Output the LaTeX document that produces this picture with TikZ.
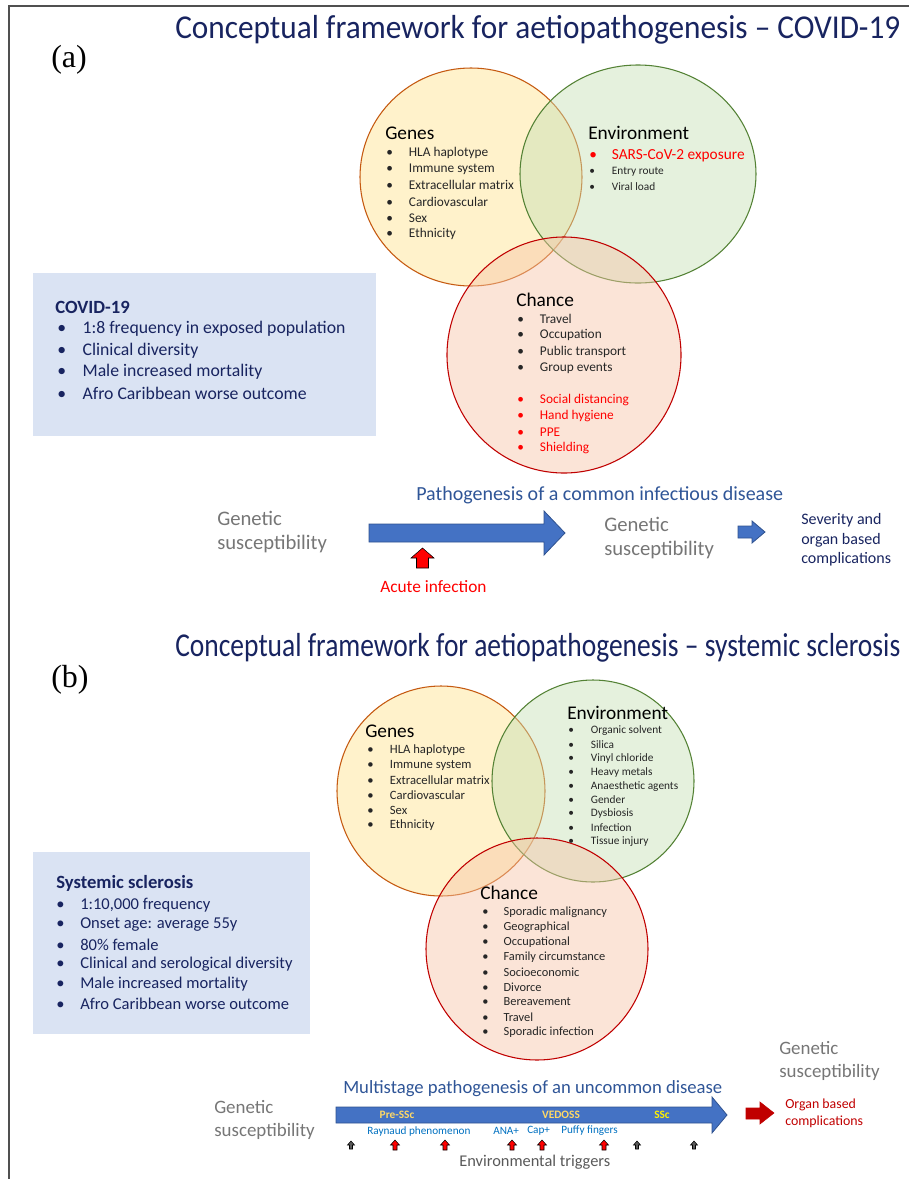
\documentclass[tikz,border=0pt]{standalone}
\usepackage{graphicx}
\usepackage{fontspec}
\setmainfont{Carlito}
\newfontfamily\labelfont{Liberation Serif}

\definecolor{navy}{RGB}{24,36,96}
\definecolor{genesline}{RGB}{197,90,17}
\definecolor{genesfill}{RGB}{255,226,140}
\definecolor{envline}{RGB}{84,130,53}
\definecolor{envfill}{RGB}{197,224,180}
\definecolor{chanceline}{RGB}{192,0,0}
\definecolor{chancefill}{RGB}{246,196,166}
\definecolor{boxfill}{RGB}{218,227,243}
\definecolor{arrowblue}{RGB}{68,114,196}
\definecolor{arrowedge}{RGB}{47,82,143}
\definecolor{textblue}{RGB}{47,85,151}
\definecolor{signblue}{RGB}{0,112,192}
\definecolor{stagegold}{RGB}{255,217,102}
\definecolor{susgray}{RGB}{118,118,118}
\definecolor{alertred}{RGB}{255,0,0}
\definecolor{darkred}{RGB}{192,0,0}
\definecolor{framegray}{RGB}{80,80,80}

\newcommand{\bul}[2]{\makebox[#1][l]{\textbullet}#2}
\newcommand{\titlefit}[1]{\resizebox{543.75pt}{\height}{#1}}

\begin{document}
\begin{tikzpicture}[
        x = 0.75pt, y = -0.75pt, % one unit = one pixel, y downwards
        every node/.style = {inner sep = 0pt},
        title/.style = {anchor = west, text = navy, font = \fontsize{25}{29}\selectfont},
        panel/.style = {anchor = west, font = \labelfont\fontsize{24}{28}\selectfont},
        genes/.style = {draw = genesline, fill = genesfill, fill opacity = 0.45, thick},
        env/.style = {draw = envline, fill = envfill, fill opacity = 0.45, thick},
        chance/.style = {draw = chanceline, fill = chancefill, fill opacity = 0.45, thick},
        head/.style = {anchor = west, font = \fontsize{14.5}{17}\selectfont},
        item/.style = {anchor = west, text = black!85, font = \fontsize{10}{12}\selectfont},
        boxhead/.style = {anchor = west, text = navy, font = \bfseries\fontsize{14}{17}\selectfont},
        boxitem/.style = {anchor = west, text = navy, font = \fontsize{13.3}{16}\selectfont},
        sus/.style = {anchor = west, align = left, text = susgray, font = \fontsize{15.5}{18}\selectfont},
        stage/.style = {text = stagegold, font = \bfseries\fontsize{8.5}{10}\selectfont},
        sign/.style = {anchor = west, text = signblue, font = \fontsize{8.4}{10}\selectfont},
        blockarrow/.style = {fill = arrowblue, draw = arrowedge, line width = 0.6pt},
        trig/.style = {fill = alertred},
        quiet/.style = {fill = black!65}
    ]

    \useasboundingbox (0,0) rectangle (909,1179);

    % frame
    \draw[framegray, line width = 1.5pt] (9,1179) -- (9,6) -- (909,6);

    %%%%%%%%%% (a) COVID-19
    \node[title] (titleA) at (175,30) {\titlefit{Conceptual framework for aetiopathogenesis – COVID-19}};
    \node[panel] (labA) at (51,60) {(a)};

    \draw[genes] (471,177) ellipse [x radius = 111, y radius = 109];
    \draw[env] (638,174) ellipse [x radius = 118, y radius = 109];
    \draw[chance] (564,355) ellipse [x radius = 117, y radius = 118];

    \node[head] (genesA) at (385,133) {Genes};
    \foreach \txt [count=\i from 0] in {HLA haplotype, Immune system, Extracellular matrix, Cardiovascular, Sex, Ethnicity}
        \node[item] (genesA\i) at (386,{153+16.2*\i}) {\bul{17pt}{\txt}};

    \node[head] (envA) at (588,133) {Environment};
    \node[item, text = alertred, font = \fontsize{11.5}{13}\selectfont] (envA0) at (589,156) {\bul{17pt}{SARS-CoV-2 exposure}};
    \node[item, font = \fontsize{8.5}{10}\selectfont] (envA1) at (589,172) {\bul{17pt}{Entry route}};
    \node[item, font = \fontsize{8.5}{10}\selectfont] (envA2) at (589,187) {\bul{17pt}{Viral load}};

    \node[head] (chanceA) at (516,300) {Chance};
    \foreach \txt [count=\i from 0] in {Travel, Occupation, Public transport, Group events}
        \node[item] (chanceA\i) at (517,{319+16.3*\i}) {\bul{17pt}{\txt}};
    \foreach \txt [count=\i from 0] in {Social distancing, Hand hygiene, PPE, Shielding}
        \node[item, text = alertred] (redA\i) at (517,{400+16*\i}) {\bul{17pt}{\txt}};

    % info box
    \fill[boxfill] (33,273) rectangle (376,436);
    \node[boxhead] (boxA) at (55,307) {COVID-19};
    \foreach \txt [count=\i from 0] in {1:8 frequency in exposed population, Clinical diversity, Male increased mortality, Afro Caribbean worse outcome}
        \node[boxitem] (boxA\i) at (57,{329+21.3*\i}) {\bul{19pt}{\txt}};

    % pathway
    \node[anchor = west, text = textblue, font = \fontsize{15}{18}\selectfont] (pathA) at (416,495) {Pathogenesis of a common infectious disease};
    \node[sus] (susA) at (217,532) {Genetic\\susceptibility};
    \draw[blockarrow] (369,524) -- (544,524) -- (544,511) -- (565,533) -- (544,555) -- (544,542) -- (369,542) -- cycle;
    \node[sus] (susB) at (604,538) {Genetic\\susceptibility};
    \draw[blockarrow] (738,526) -- (752,526) -- (752,521) -- (765,532) -- (752,543) -- (752,538) -- (738,538) -- cycle;
    \node[anchor = west, align = left, text = navy, font = \fontsize{12}{14.5}\selectfont] (outA) at (801,540) {Severity and\\organ based\\complications};
    \draw[trig] (411,558) -- (422.5,548) -- (434,558) -- (428.5,558) -- (428.5,568) -- (416.5,568) -- (416.5,558) -- cycle;
    \node[anchor = west, text = alertred, font = \fontsize{13}{16}\selectfont] (acute) at (380,587) {Acute infection};

    %%%%%%%%%% (b) systemic sclerosis
    \node[title] (titleB) at (175,648) {\titlefit{Conceptual framework for aetiopathogenesis – systemic sclerosis}};
    \node[panel] (labB) at (51,680) {(b)};

    \draw[genes] (441,791) ellipse [x radius = 104, y radius = 105];
    \draw[env] (593,781) ellipse [x radius = 101, y radius = 101];
    \draw[chance] (537,949) ellipse [x radius = 111, y radius = 111];

    \node[head] (genesB) at (365,731) {Genes};
    \foreach \txt [count=\i from 0] in {HLA haplotype, Immune system, Extracellular matrix, Cardiovascular, Sex, Ethnicity}
        \node[item, font = \fontsize{9.5}{11}\selectfont] (genesB\i) at (367,{750+15*\i}) {\bul{17pt}{\txt}};

    \node[head] (envB) at (567,713) {Environment};
    \foreach \txt [count=\i from 0] in {Organic solvent, Silica, Vinyl chloride, Heavy metals, Anaesthetic agents, Gender, Dysbiosis, Infection, Tissue injury}
        \node[item, font = \fontsize{8.5}{10}\selectfont] (envB\i) at (568,{731+13.8*\i}) {\bul{17pt}{\txt}};

    \node[head] (chanceB) at (480,893) {Chance};
    \foreach \txt [count=\i from 0] in {Sporadic malignancy, Geographical, Occupational, Family circumstance, Socioeconomic, Divorce, Bereavement, Travel, Sporadic infection}
        \node[item, font = \fontsize{9.3}{11}\selectfont] (chanceB\i) at (482,{912+15*\i}) {\bul{16pt}{\txt}};

    % info box
    \fill[boxfill] (33,852) rectangle (310,1034);
    \node[boxhead] (boxB) at (56,883) {Systemic sclerosis};
    \foreach \txt [count=\i from 0] in {{1:10,000 frequency}, Onset age: average 55y, 80\% female, Clinical and serological diversity, Male increased mortality, Afro Caribbean worse outcome}
        \node[boxitem, font = \fontsize{12.4}{15}\selectfont] (boxB\i) at (56,{905+19.8*\i}) {\bul{18pt}{\txt}};

    % pathway
    \node[anchor = west, text = textblue, font = \fontsize{14}{17}\selectfont] (pathB) at (343,1089) {Multistage pathogenesis of an uncommon disease};
    \node[sus, font = \fontsize{14.2}{17.3}\selectfont] (susC) at (214,1120) {Genetic\\susceptibility};
    \draw[blockarrow] (336,1107) -- (712,1107) -- (712,1097) -- (727,1115) -- (712,1133) -- (712,1123) -- (336,1123) -- cycle;
    \node[stage] (preSSc) at (397,1115) {Pre-SSc};
    \node[stage] (vedoss) at (561,1115) {VEDOSS};
    \node[stage, text = yellow] (ssc) at (662,1115) {SSc};
    \node[sign] (raynaud) at (367,1131) {Raynaud phenomenon};
    \node[sign] (ana) at (493,1131) {ANA+};
    \node[sign] (cap) at (527,1131) {Cap+};
    \node[sign] (puffy) at (561,1131) {Puffy fingers};

    % environmental triggers
    \foreach \px in {395,445,512,542,604}
        \draw[trig] (\px-4.5,1145) -- (\px,1140) -- (\px+4.5,1145) -- (\px+2,1145) -- (\px+2,1150) -- (\px-2,1150) -- (\px-2,1145) -- cycle;
    \foreach \px in {351,637,694}
        \draw[quiet] (\px-3.5,1145) -- (\px,1141) -- (\px+3.5,1145) -- (\px+1.5,1145) -- (\px+1.5,1149) -- (\px-1.5,1149) -- (\px-1.5,1145) -- cycle;
    \node[anchor = west, text = black!65, font = \fontsize{12.3}{15}\selectfont] (triggers) at (459,1162) {Environmental triggers};

    \node[sus, font = \fontsize{14.2}{17.3}\selectfont] (susD) at (779,1061) {Genetic\\susceptibility};
    \draw[fill = darkred, draw = darkred] (746,1108) -- (760,1108) -- (760,1102) -- (774,1113) -- (760,1124) -- (760,1119) -- (746,1119) -- cycle;
    \node[anchor = west, align = left, text = darkred, font = \fontsize{10.4}{13}\selectfont] (outB) at (785,1113) {Organ based\\complications};

\end{tikzpicture}
\end{document}
